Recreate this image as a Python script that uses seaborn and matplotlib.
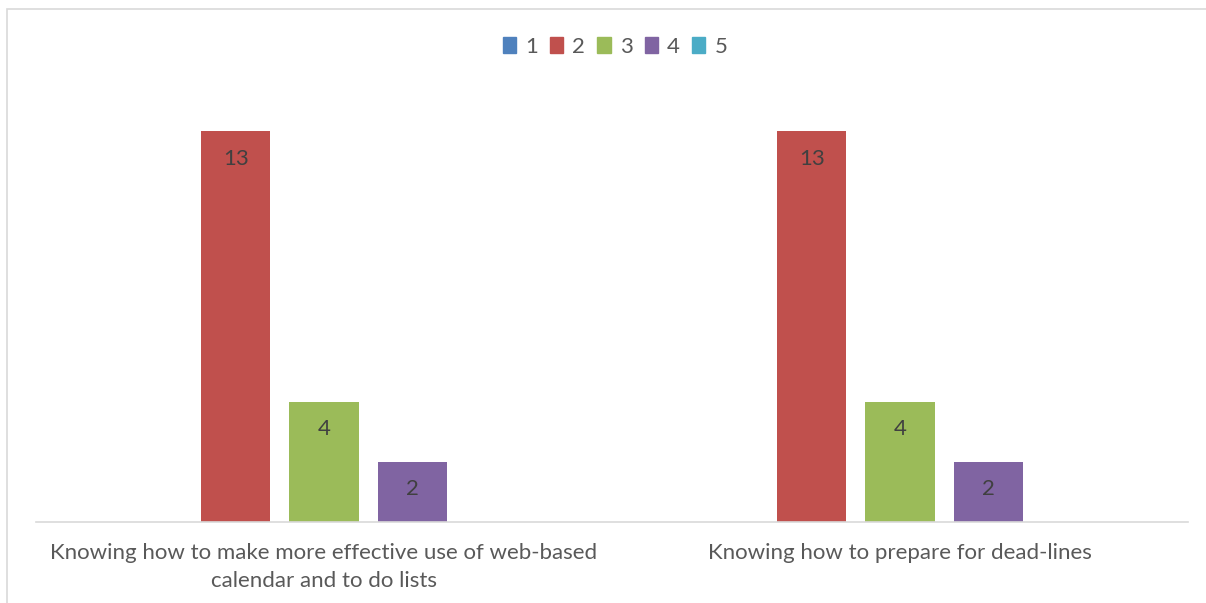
import pandas as pd
import matplotlib.pyplot as plt
import matplotlib.patches as mpatches
import seaborn as sns

# values
categories = ["Knowing how to make more effective use of web-based\ncalendar and to do lists",
              "Knowing how to prepare for dead-lines"]
series = ["1", "2", "3", "4", "5"]
values = {
    "1": [0, 0],
    "2": [13, 13],
    "3": [4, 4],
    "4": [2, 2],
    "5": [0, 0],
}
colors = ["#4f81bd", "#c0504d", "#9bbb59", "#8064a2", "#4bacc6"]

rows = []
for s in series:
    for cat, v in zip(categories, values[s]):
        rows.append({"category": cat, "series": s, "value": v})
df = pd.DataFrame(rows)

sns.set_style("white")
plt.rcParams['font.family'] = ['Lato', 'DejaVu Sans']

fig = plt.figure(figsize=(12.06, 6.03), dpi=100)
ax = fig.add_axes([36 / 1206, 1 - 522 / 603, 1152 / 1206, 421 / 603])

sns.barplot(data=df, x="category", y="value", hue="series", hue_order=series,
            order=categories, palette=colors, saturation=1, width=0.764, gap=0.216,
            linewidth=0, legend=False, ax=ax)

# data labels inside the end of each bar
for container in ax.containers:
    labels = [f"{int(b.get_height())}" if b.get_height() > 0 else "" for b in container]
    ax.bar_label(container, labels=labels, label_type="edge", padding=-27,
                 color="#404040", fontsize=16)

ax.set_ylim(0, 14)
ax.set_xlim(-0.5, 1.5)
ax.set_xlabel("")
ax.set_ylabel("")
ax.set_yticks([])
ax.tick_params(axis="x", length=0, pad=15, labelsize=16, labelcolor="#595959")
for lbl in ax.get_xticklabels():
    lbl.set_linespacing(1.5)
for side in ["top", "left", "right"]:
    ax.spines[side].set_visible(False)
ax.spines["bottom"].set_color("#d9d9d9")
ax.spines["bottom"].set_linewidth(1.2)

# legend at the top
handles = [mpatches.Patch(color=c, label=s) for s, c in zip(series, colors)]
fig.legend(handles=handles, loc="center", bbox_to_anchor=(615 / 1206, 1 - 47 / 603),
           ncol=5, frameon=False, fontsize=16, handlelength=0.6, handleheight=0.7,
           handletextpad=0.4, columnspacing=0.55, labelcolor="#595959")

# chart border (partly cut off like the reference)
border = mpatches.Rectangle((7 / 1206, -0.1), 1.2, 1.1 - 9 / 603, transform=fig.transFigure,
                            fill=False, edgecolor="#d9d9d9", linewidth=1.2)
fig.patches.append(border)

fig.savefig("out.png", dpi=100)
